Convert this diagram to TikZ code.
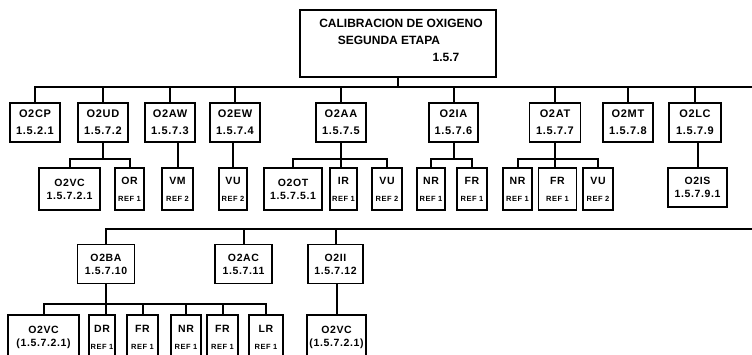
\documentclass[tikz,border=0pt]{standalone}
\usepackage{fontspec}
\setmainfont{Liberation Sans}
\newfontfamily\labf{Liberation Sans}[LetterSpace=6]
\newcommand\reflab[1]{{\fontsize{7.5}{9}\selectfont REF #1}}
\begin{document}
\begin{tikzpicture}[x=1pt,y=-1pt]
\tikzset{
 box/.style={draw, line width=1.3pt, inner sep=0pt, align=center, font=\labf\bfseries\fontsize{11}{17}\selectfont},
 sbox/.style={box, font=\labf\bfseries\fontsize{10.5}{13}\selectfont},
 rbox/.style={box, font=\labf\bfseries\fontsize{10.5}{17}\selectfont},
 wh/.style 2 args={minimum width=#1, minimum height=#2},
 conn/.style={line width=2pt},
 ttl/.style={font=\bfseries\fontsize{12}{14}\selectfont, inner sep=0pt}
}
\useasboundingbox (0,0) rectangle (752,355);
\clip (0,0) rectangle (752,355);
\fill[white] (0,0) rectangle (752,355);

% title
\node[box, wh={196}{67}] (T) at (398,43.5) {};
\node[ttl] (t1) at (401,23) {CALIBRACION DE OXIGENO};
\node[ttl] (t2) at (389,40) {SEGUNDA ETAPA};
\node[ttl] (t3) at (446,57) {1.5.7};

% level 1
\node[box, wh={50}{39}] (a1) at (35,122.5) {O2CP\\1.5.2.1};
\node[box, wh={50}{39}] (a2) at (103,122.5) {O2UD\\1.5.7.2};
\node[box, wh={50}{39}] (a3) at (170,122.5) {O2AW\\1.5.7.3};
\node[box, wh={50}{39}] (a4) at (235,122.5) {O2EW\\1.5.7.4};
\node[box, wh={50}{39}] (a5) at (341,122.5) {O2AA\\1.5.7.5};
\node[box, wh={49}{39}] (a6) at (453.5,122.5) {O2IA\\1.5.7.6};
\node[box, wh={51}{39}] (a7) at (555,122.5) {O2AT\\1.5.7.7};
\node[box, wh={50}{39}] (a8) at (628,122.5) {O2MT\\1.5.7.8};
\node[box, wh={52}{39}] (a9) at (695,122.5) {O2LC\\1.5.7.9};

% level 2
\node[sbox, wh={61}{42}] (b1) at (69.5,189) {O2VC\\1.5.7.2.1};
\node[rbox, wh={29}{42}] (b2) at (129.5,189) {OR\\\reflab{1}};
\node[rbox, wh={31}{42}] (b3) at (177.5,189) {VM\\\reflab{2}};
\node[rbox, wh={28}{42}] (b4) at (233,189) {VU\\\reflab{2}};
\node[sbox, wh={58}{42}] (b5) at (293,189) {O2OT\\1.5.7.5.1};
\node[rbox, wh={27}{42}] (b6) at (343.5,189) {IR\\\reflab{1}};
\node[rbox, wh={30}{42}] (b7) at (387,189) {VU\\\reflab{2}};
\node[rbox, wh={28}{42}] (b8) at (431,189) {NR\\\reflab{1}};
\node[rbox, wh={30}{42}] (b9) at (472,189) {FR\\\reflab{1}};
\node[rbox, wh={29}{42}] (b10) at (517.5,189) {NR\\\reflab{1}};
\node[rbox, wh={38}{42}] (b11) at (557.5,189) {FR\\\reflab{1}};
\node[rbox, wh={30}{42}] (b12) at (598,189) {VU\\\reflab{2}};
\node[sbox, wh={59}{39}] (b13) at (697.5,187.5) {O2IS\\1.5.7.9.1};

% level 3
\node[sbox, wh={57}{39}] (c1) at (106,264) {O2BA\\1.5.7.10};
\node[sbox, wh={57}{39}] (c2) at (243.5,264) {O2AC\\1.5.7.11};
\node[sbox, wh={55}{39}] (c3) at (335.5,264) {O2II\\1.5.7.12};

% level 4
\node[sbox, wh={71}{44}] (d1) at (43.5,337) {O2VC\\(1.5.7.2.1)};
\node[rbox, wh={26}{44}] (d2) at (102,337) {DR\\\reflab{1}};
\node[rbox, wh={31}{44}] (d3) at (142.5,337) {FR\\\reflab{1}};
\node[rbox, wh={30}{44}] (d4) at (186,337) {NR\\\reflab{1}};
\node[rbox, wh={31}{44}] (d5) at (222.5,337) {FR\\\reflab{1}};
\node[rbox, wh={34}{44}] (d6) at (266,337) {LR\\\reflab{1}};
\node[sbox, wh={59}{44}] (d7) at (336.5,337) {O2VC\\(1.5.7.2.1)};

% coordinates
\coordinate (bus1R) at (752,87);
\coordinate (bus2R) at (752,229);
\coordinate (sub1) at (0,159);
\coordinate (sub2) at (0,304);

% connectors level 0-1
\draw[conn] (T.south) -- (T.south |- bus1R);
\draw[conn] (a1.north) |- (bus1R);
\foreach \n in {a2,a3,a4,a5,a6,a7,a8,a9} \draw[conn] (\n.north) -- (\n.north |- bus1R);

% level 1-2
\draw[conn] (a2.south) -- (a2.south |- sub1);
\draw[conn] (b1.north) |- (a2.south |- sub1) -| (b2.north);
\draw[conn] (b3.north) -- (b3.north |- a3.south);
\draw[conn] (b4.north) -- (b4.north |- a4.south);
\draw[conn] (a5.south) -- (a5.south |- b6.north);
\draw[conn] (b5.north) |- (a5.south |- sub1) -| (b7.north);
\draw[conn] (a6.south) -- (a6.south |- sub1);
\draw[conn] (b8.north) |- (a6.south |- sub1) -| (b9.north);
\draw[conn] (a7.south) -- (a7.south |- b11.north);
\draw[conn] (b10.north) |- (a7.south |- sub1) -| (b12.north);
\draw[conn] (b13.north) -- (b13.north |- a9.south);

% second bus
\draw[conn] (c1.north) |- (bus2R);
\draw[conn] (c2.north) -- (c2.north |- bus2R);
\draw[conn] (c3.north) -- (c3.north |- bus2R);

% level 3-4
\draw[conn] (c1.south) -- (c1.south |- d2.north);
\draw[conn] (d1.north) |- (c1.south |- sub2) -| (d6.north);
\foreach \n in {d3,d4,d5} \draw[conn] (\n.north) -- (\n.north |- sub2);
\draw[conn] (d7.north) -- (d7.north |- c3.south);
\end{tikzpicture}
\end{document}
